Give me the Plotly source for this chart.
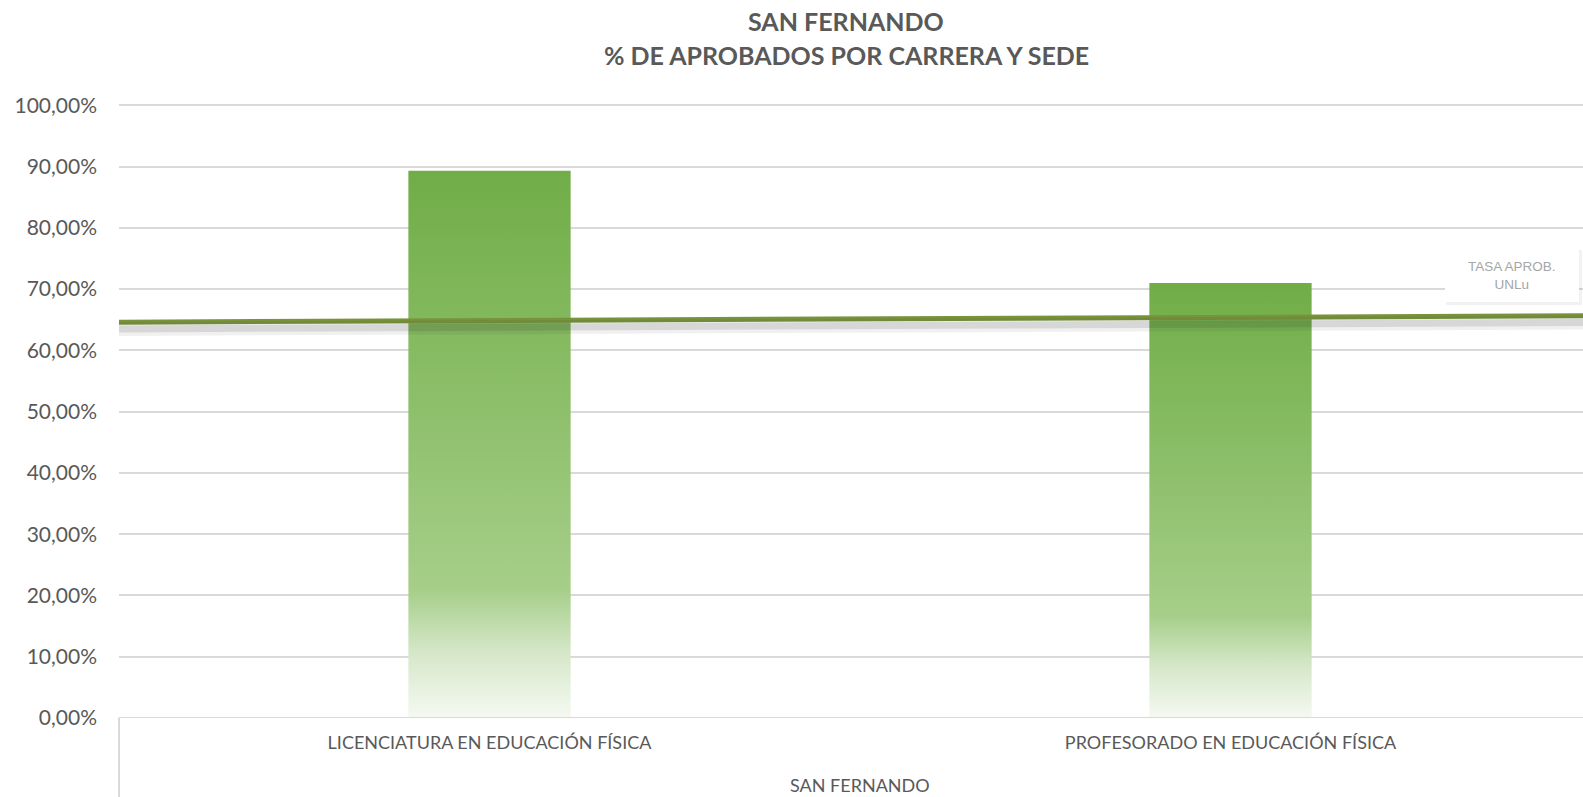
import plotly.graph_objects as go

# ---------------- data ----------------
categories = ["LICENCIATURA EN EDUCACIÓN FÍSICA", "PROFESORADO EN EDUCACIÓN FÍSICA"]
group_label = "SAN FERNANDO"
aprobados_pct = [89.3, 71.0]          # % de aprobados por carrera
tasa_unlu_pct = [64.6, 65.65]         # TASA APROB. UNLu (line, on-tick positions)
tick_values = [0, 10, 20, 30, 40, 50, 60, 70, 80, 90, 100]
tick_labels = ["0,00%", "10,00%", "20,00%", "30,00%", "40,00%", "50,00%",
               "60,00%", "70,00%", "80,00%", "90,00%", "100,00%"]
title_lines = ["SAN FERNANDO", "% DE APROBADOS POR CARRERA Y SEDE"]
line_label = "TASA APROB.<br>UNLu"

# ---------------- layout constants ----------------
W, H = 1583, 797
ML, MR, MT, MB = 119, 0, 104, 79
PH = H - MT - MB
BAR_W = 0.219
FONT = "Lato"
TXT = "#595959"

fig = go.Figure()

# bars with vertical gradient (drawn as filled shapes on the category axis)
for i, (cat, v) in enumerate(zip(categories, aprobados_pct)):
    xs = [i - BAR_W / 2, i + BAR_W / 2, i + BAR_W / 2, i - BAR_W / 2, i - BAR_W / 2]
    ys = [0, 0, v, v, 0]
    fig.add_trace(go.Scatter(
        x=xs, y=ys, mode="lines", fill="toself",
        line=dict(width=0, color="rgba(0,0,0,0)"),
        fillgradient=dict(type="vertical",
                          colorscale=[[0, "#F5F9F2"], [0.12, "#D5E7C8"],
                                      [0.235, "#A6CE89"], [0.6, "#8BBE68"],
                                      [1, "#70AD47"]]),
        name=cat, showlegend=False, hoverinfo="skip",
    ))

# soft shadow of the line (slightly below)
fig.add_trace(go.Scatter(
    x=[0, 1], y=tasa_unlu_pct, mode="lines", xaxis="x2", yaxis="y3",
    line=dict(color="rgba(40,40,40,0.07)", width=14),
    showlegend=False, hoverinfo="skip",
))
fig.add_trace(go.Scatter(
    x=[0, 1], y=tasa_unlu_pct, mode="lines", xaxis="x2", yaxis="y3",
    line=dict(color="rgba(40,40,40,0.12)", width=7),
    showlegend=False, hoverinfo="skip",
))
# main line
fig.add_trace(go.Scatter(
    x=[0, 1], y=tasa_unlu_pct, mode="lines", xaxis="x2",
    line=dict(color="#77933C", width=5),
    name="TASA APROB. UNLu", showlegend=False,
))

plot_w = W - ML - MR
full_w = 2 * 741  # width of full category span in px
vis = plot_w / full_w

fig.update_layout(
    width=W, height=H,
    margin=dict(l=ML, r=MR, t=MT, b=MB, autoexpand=False),
    plot_bgcolor="white", paper_bgcolor="white",
    font=dict(family=FONT, color=TXT),
    xaxis=dict(
        range=[-0.5, -0.5 + 2 * vis],
        tickvals=[0, 1], ticktext=categories,
        tickfont=dict(family=FONT, size=18, color=TXT),
        showgrid=False, zeroline=False, automargin=False,
        showline=False, ticks="", ticklabelstandoff=12,
    ),
    xaxis2=dict(range=[0, vis], overlaying="x", visible=False),
    yaxis=dict(
        range=[0, 100.2],
        tickvals=tick_values, ticktext=tick_labels,
        tickfont=dict(family=FONT, size=21, color=TXT),
        showgrid=True, gridcolor="#D9D9D9", gridwidth=2,
        zeroline=False, showline=False, ticks="", automargin=False,
        ticklabelstandoff=21,
    ),
    yaxis3=dict(range=[1.1, 101.3], overlaying="y", visible=False),
    showlegend=False,
)

# title lines
for k, yy in ((0, 21), (1, 55)):
    fig.add_annotation(text="<b>" + title_lines[k] + "</b>", xref="paper", yref="paper",
                       x=(846 - ML) / plot_w, y=(H - MB - yy) / PH, yanchor="middle",
                       xanchor="center",
                       showarrow=False, font=dict(family=FONT, size=25, color=TXT))

# x-axis baseline and left multi-level category border
fig.add_shape(type="line", xref="paper", yref="y", x0=0, x1=1, y0=0, y1=0,
              line=dict(color="#D9D9D9", width=2))
fig.add_shape(type="line", xref="paper", yref="paper", x0=0, x1=0, y0=0,
              y1=-80 / PH, line=dict(color="#D9D9D9", width=2))

# group label
fig.add_annotation(text=group_label, xref="x", x=0.5, yref="paper", xanchor="center",
                   y=-(67 / PH), yanchor="middle", showarrow=False,
                   font=dict(family=FONT, size=18, color=TXT))

# line data label with shadowed box
lx = (1512 - ML) / plot_w
ly = (H - MB - 275) / PH
fig.add_shape(type="rect", xref="paper", yref="paper", xsizemode="pixel", ysizemode="pixel",
              xanchor=lx, yanchor=ly, x0=-66, x1=70, y0=-30, y1=25,
              fillcolor="rgba(0,0,0,0.05)", line=dict(width=0), layer="above")
fig.add_shape(type="rect", xref="paper", yref="paper", xsizemode="pixel", ysizemode="pixel",
              xanchor=lx, yanchor=ly, x0=-67, x1=67, y0=-27, y1=26,
              fillcolor="white", line=dict(width=0), layer="above")
fig.add_annotation(text=line_label, xref="paper", yref="paper", x=lx, y=ly,
                   xanchor="center", yanchor="middle", showarrow=False,
                   font=dict(family="Liberation Sans", size=13.5, color="#A6A6A6"))

fig.write_html("out.html", post_script="document.body.style.margin='0px';",
               config={"displayModeBar": False})
